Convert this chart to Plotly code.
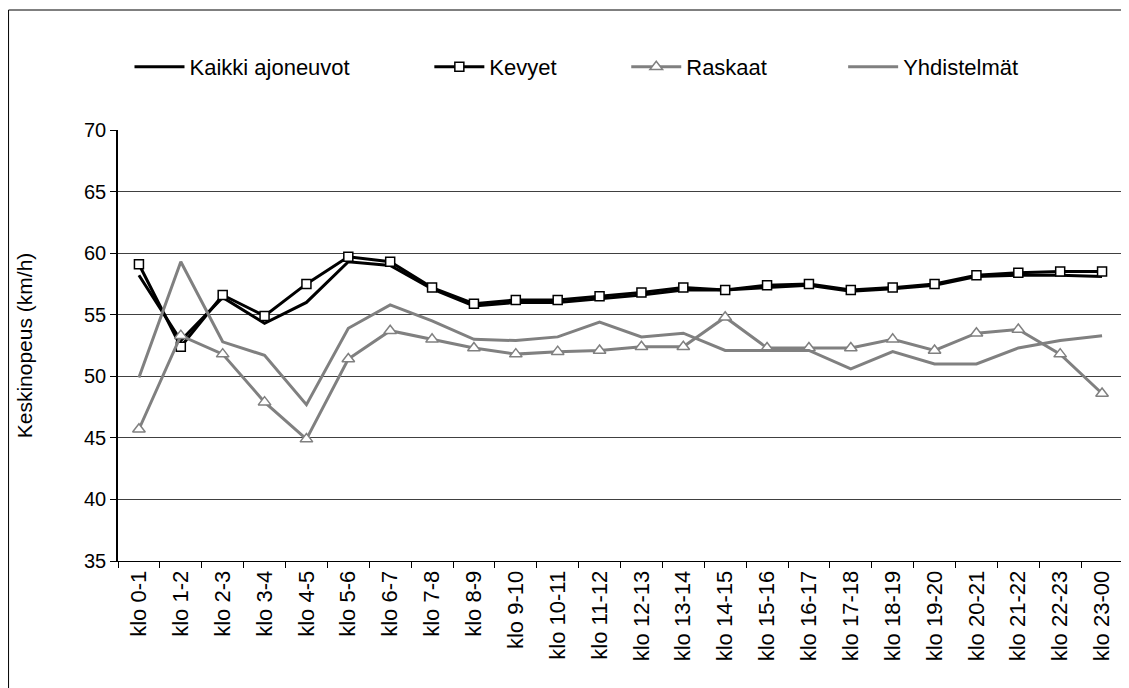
import plotly.graph_objects as go

categories = ["klo 0-1", "klo 1-2", "klo 2-3", "klo 3-4", "klo 4-5", "klo 5-6",
              "klo 6-7", "klo 7-8", "klo 8-9", "klo 9-10", "klo 10-11", "klo 11-12",
              "klo 12-13", "klo 13-14", "klo 14-15", "klo 15-16", "klo 16-17", "klo 17-18",
              "klo 18-19", "klo 19-20", "klo 20-21", "klo 21-22", "klo 22-23", "klo 23-00"]

kaikki = [58.2, 52.9, 56.4, 54.3, 56.0, 59.3, 59.0, 57.1, 55.7, 56.0, 56.0, 56.3,
          56.6, 57.0, 57.0, 57.2, 57.4, 56.9, 57.1, 57.4, 58.1, 58.2, 58.2, 58.1]
kevyet = [59.1, 52.4, 56.6, 54.9, 57.5, 59.7, 59.3, 57.2, 55.9, 56.2, 56.2, 56.5,
          56.8, 57.2, 57.0, 57.4, 57.5, 57.0, 57.2, 57.5, 58.2, 58.4, 58.5, 58.5]
raskaat = [45.7, 53.3, 51.8, 47.9, 44.9, 51.4, 53.7, 53.0, 52.3, 51.8, 52.0, 52.1,
           52.4, 52.4, 54.8, 52.3, 52.3, 52.3, 53.0, 52.1, 53.5, 53.8, 51.8, 48.6]
yhdistelmat = [49.9, 59.3, 52.8, 51.7, 47.7, 53.9, 55.8, 54.5, 53.0, 52.9, 53.2, 54.4,
               53.2, 53.5, 52.1, 52.1, 52.1, 50.6, 52.0, 51.0, 51.0, 52.3, 52.9, 53.3]

names = ["Kaikki ajoneuvot", "Kevyet", "Raskaat", "Yhdistelmät"]

BLACK = "#000000"
GRAY = "#808080"
FONT = "Liberation Sans, Arial, sans-serif"

fig = go.Figure()
fig.add_trace(go.Scatter(x=categories, y=kaikki, name=names[0], mode="lines",
                         line=dict(color=BLACK, width=3), legend="legend"))
fig.add_trace(go.Scatter(x=categories, y=kevyet, name=names[1], mode="lines+markers",
                         line=dict(color=BLACK, width=3),
                         marker=dict(symbol="square", size=9, color="white",
                                     line=dict(color=BLACK, width=1.5)),
                         legend="legend2"))
fig.add_trace(go.Scatter(x=categories, y=raskaat, name=names[2], mode="lines+markers",
                         line=dict(color=GRAY, width=3),
                         marker=dict(symbol="triangle-up", size=11, color="white",
                                     line=dict(color=GRAY, width=1.5)),
                         legend="legend3"))
fig.add_trace(go.Scatter(x=categories, y=yhdistelmat, name=names[3], mode="lines",
                         line=dict(color=GRAY, width=3), legend="legend4"))

# page pixel geometry (the page body adds an 8px offset)
OFF = 8
W, H = 1129 - OFF, 688 - OFF
L, R, T, B = 117.5 - OFF, 1123.0 - OFF, 130.0 - OFF, 561.0 - OFF
pw, ph = R - L, B - T


def px(x):
    return (x - OFF - L) / pw


def py(y):
    return (B - (y - OFF)) / ph


leg_common = dict(orientation="h", yanchor="middle", xanchor="left",
                  font=dict(family=FONT, size=22, color="black"),
                  bgcolor="rgba(0,0,0,0)", borderwidth=0, itemwidth=50)
leg_y = py(67)

fig.update_layout(
    width=W, height=H,
    margin=dict(l=L, r=W - R, t=T, b=H - B),
    paper_bgcolor="white", plot_bgcolor="white",
    font=dict(family=FONT, size=20, color="black"),
    showlegend=True,
    legend=dict(x=px(129), y=leg_y, **leg_common),
    legend2=dict(x=px(429), y=leg_y, **leg_common),
    legend3=dict(x=px(626), y=leg_y, **leg_common),
    legend4=dict(x=px(843), y=leg_y, **leg_common),
    xaxis=dict(type="category", range=[-0.5, len(categories) - 0.5],
               showgrid=False, showline=True, linecolor=BLACK, linewidth=1,
               ticks="outside", ticklen=6, tickcolor=BLACK, tickson="boundaries",
               tickangle=-90, tickfont=dict(family=FONT, size=22, color="black"),
               zeroline=False, fixedrange=True),
    yaxis=dict(range=[35, 70], dtick=5, tick0=35,
               showgrid=True, gridcolor="#404040", gridwidth=1,
               showline=True, linecolor=BLACK, linewidth=1.5,
               ticks="outside", ticklen=6, tickcolor=BLACK,
               tickfont=dict(family=FONT, size=20, color="black"),
               title=dict(text="Keskinopeus (km/h)", font=dict(family=FONT, size=21, color="black"),
                          standoff=46),
               zeroline=False, fixedrange=True),
    shapes=[
        dict(type="rect", xref="paper", yref="paper",
             x0=px(8), x1=px(1128), y0=py(720), y1=py(10),
             line=dict(color="#000000", width=1), fillcolor="rgba(0,0,0,0)", layer="above"),
        dict(type="line", xref="paper", yref="paper", x0=1, x1=1, y0=0, y1=1,
             line=dict(color=GRAY, width=2)),
    ],
)

fig.write_html("out.html")
